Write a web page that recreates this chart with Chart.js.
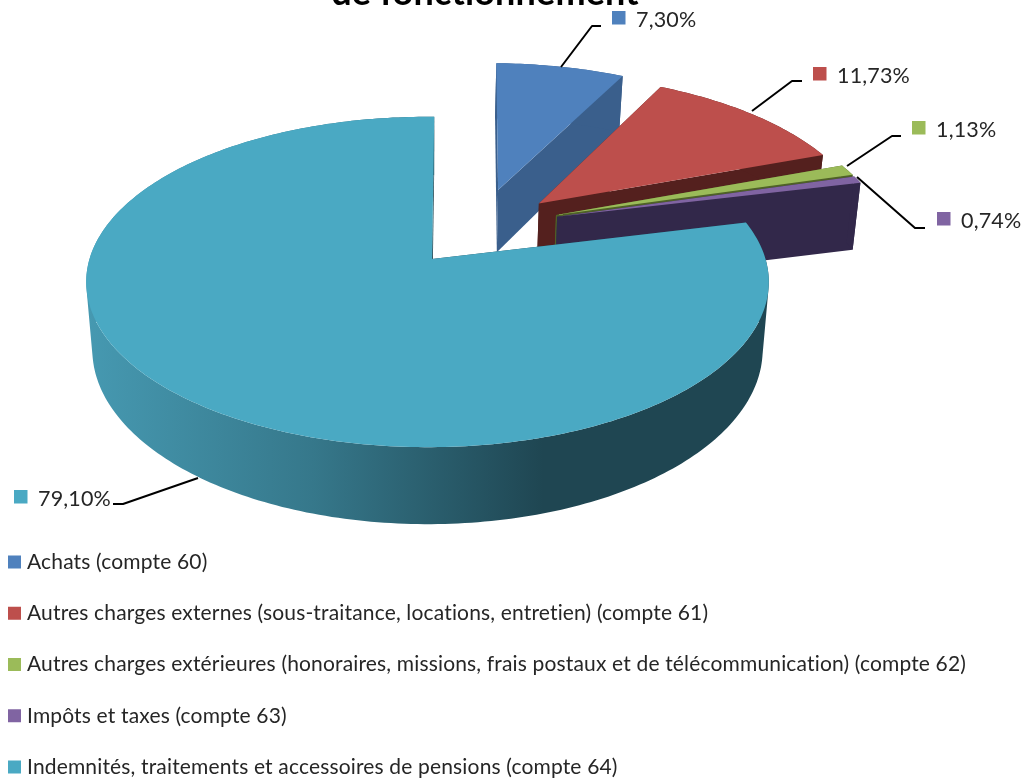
<!DOCTYPE html>
<html lang="fr"><head><meta charset="utf-8">
<style>html,body{margin:0;padding:0;background:#fff}canvas{display:block}</style>
<script src="https://cdn.jsdelivr.net/npm/chart.js@4"></script>
</head><body><canvas id="c" width="1028" height="780"></canvas>
<script>
const categories = [
 "Achats (compte 60)",
 "Autres charges externes (sous-traitance, locations, entretien) (compte 61)",
 "Autres charges extérieures (honoraires, missions, frais postaux et de télécommunication) (compte 62)",
 "Impôts et taxes (compte 63)",
 "Indemnités, traitements et accessoires de pensions (compte 64)"
];
const values = [7.30, 11.73, 1.13, 0.74, 79.10];
const topColors = ["#4f81bd","#bd4f4c","#9bbb59","#8064a2","#4aa9c3"];
const wallColors = ["#3a5f8c","#54201e","#4f6128","#32284a","#1f4652"];
const explodeU = [0.222,0.346,0.395,0.398,0];
const explodeV = [-0.4528,-0.360,-0.282,-0.271,0];
const depthScale = [1,1,1,1.08,1];
const titleText = "de fonctionnement";
const leaders = [
 [[561,67],[592,26],[601,26]],
 [[752,111],[792,81],[802,81]],
 [[847,166],[892,136],[901,136]],
 [[857,177],[915,228],[925,228]],
 [[198,478],[123,504],[113,504]]
];
const labelBoxes = [[612,11],[813,67],[912,121],[937,212],[14,490]];
const FONT = "Lato, Carlito, sans-serif";

const P = {cx:427.5, cy:259, k:338, kb:162, a:0.139, h:66.3, s:0.982};
function proj(u,v){
  const d = 1 - P.a*v;
  return {x:P.cx + P.k*u/d, y:P.cy + P.kb*v/d, v:v};
}
function down(p,f){
  return {x:P.cx + (p.x-P.cx)*P.s, y:p.y + f*P.h/(1-P.a*p.v)};
}
function addPoly(ctx,pts){
  let area = 0;
  pts.forEach((p,i)=>{const q=pts[(i+1)%pts.length]; area += p.x*q.y-q.x*p.y;});
  const ordered = area<0 ? pts.slice().reverse() : pts;
  ordered.forEach((p,i)=> i?ctx.lineTo(p.x,p.y):ctx.moveTo(p.x,p.y));
  ctx.closePath();
}
function poly(ctx,pts,fill){
  ctx.beginPath();
  addPoly(ctx,pts);
  ctx.fillStyle=fill; ctx.fill();
}
const pie3d = {
  id:'pie3d',
  beforeDraw(chart){
    chart.ctx.letterSpacing = '0.16px';
  },
  afterLayout(chart){
    const t = chart.titleBlock;
    t.left = 0; t.right = 970; t.top = -28.6; t.bottom = 14;
    const l = chart.legend;
    const pad = l.options.labels.padding;
    l.left = 12.5 - pad; l.right = 1028; l.top = 551.5 - pad; l.bottom = 2000;
    l.width = 1028;
  },
  beforeDatasetDraw(chart,args){
    const ctx = chart.ctx;
    const arcs = chart.getDatasetMeta(args.index).data;
    arcs.forEach((arc,i)=>{
      const n = Math.max(3,Math.ceil((arc.endAngle-arc.startAngle)/(Math.PI/180)));
      const u0 = explodeU[i], v0 = explodeV[i], f = depthScale[i];
      const rim = [];
      for(let j=0;j<=n;j++){
        const a = arc.startAngle + (arc.endAngle-arc.startAngle)*j/n;
        rim.push(proj(u0+Math.cos(a), v0+Math.sin(a)));
      }
      const apex = proj(u0,v0);
      if(i===4) apex.x += 4.5;
      const wallFill = wallColors[i];
      [rim[0],rim[n]].forEach(e=>{
        poly(ctx,[apex,e,down(e,f),down(apex,f)],wallFill);
      });
      let outerFill = wallFill;
      if(i===4){
        const g = ctx.createLinearGradient(87,0,768,0);
        g.addColorStop(0,"#4699b1");
        g.addColorStop(0.33,"#36788b");
        g.addColorStop(0.67,"#1f4652");
        g.addColorStop(1,"#1f4652");
        outerFill = g;
      }
      ctx.beginPath();
      for(let j=0;j<n;j++){
        addPoly(ctx,[rim[j],rim[j+1],down(rim[j+1],f),down(rim[j],f)]);
      }
      ctx.fillStyle=outerFill; ctx.fill();
      poly(ctx,[apex].concat(rim),topColors[i]);
    });
    return false;
  },
  afterDatasetsDraw(chart){
    const ctx = chart.ctx;
    ctx.save();
    ctx.strokeStyle="#000"; ctx.lineWidth=2; ctx.lineJoin='round';
    leaders.forEach(l=>{
      ctx.beginPath();
      l.forEach((p,i)=> i?ctx.lineTo(p[0],p[1]):ctx.moveTo(p[0],p[1]));
      ctx.stroke();
    });
    ctx.font = "21.5px "+FONT; ctx.textBaseline='alphabetic'; ctx.textAlign='left';
    values.forEach((val,i)=>{
      const b = labelBoxes[i];
      ctx.fillStyle=topColors[i];
      ctx.fillRect(b[0],b[1],13.5,13.5);
      ctx.fillStyle="#262626";
      ctx.fillText(val.toFixed(2).replace('.',',')+'%', b[0]+24, b[1]+16);
    });
    ctx.restore();
  }
};
new Chart(document.getElementById('c'),{
  type:'pie',
  data:{labels:categories,datasets:[{data:values,backgroundColor:topColors,borderWidth:0}]},
  plugins:[pie3d],
  options:{
    responsive:false, animation:false, rotation:1.3,
    plugins:{
      tooltip:{enabled:false},
      title:{display:true,text:titleText,color:"#000",font:{family:FONT,size:36,weight:'bold'},padding:0},
      legend:{position:'left',align:'start',
        labels:{color:"#262626",font:{family:FONT,size:21},boxWidth:4,boxHeight:13,usePointStyle:true,pointStyle:'rect',padding:30.25}}
    }
  }
});
</script></body></html>
